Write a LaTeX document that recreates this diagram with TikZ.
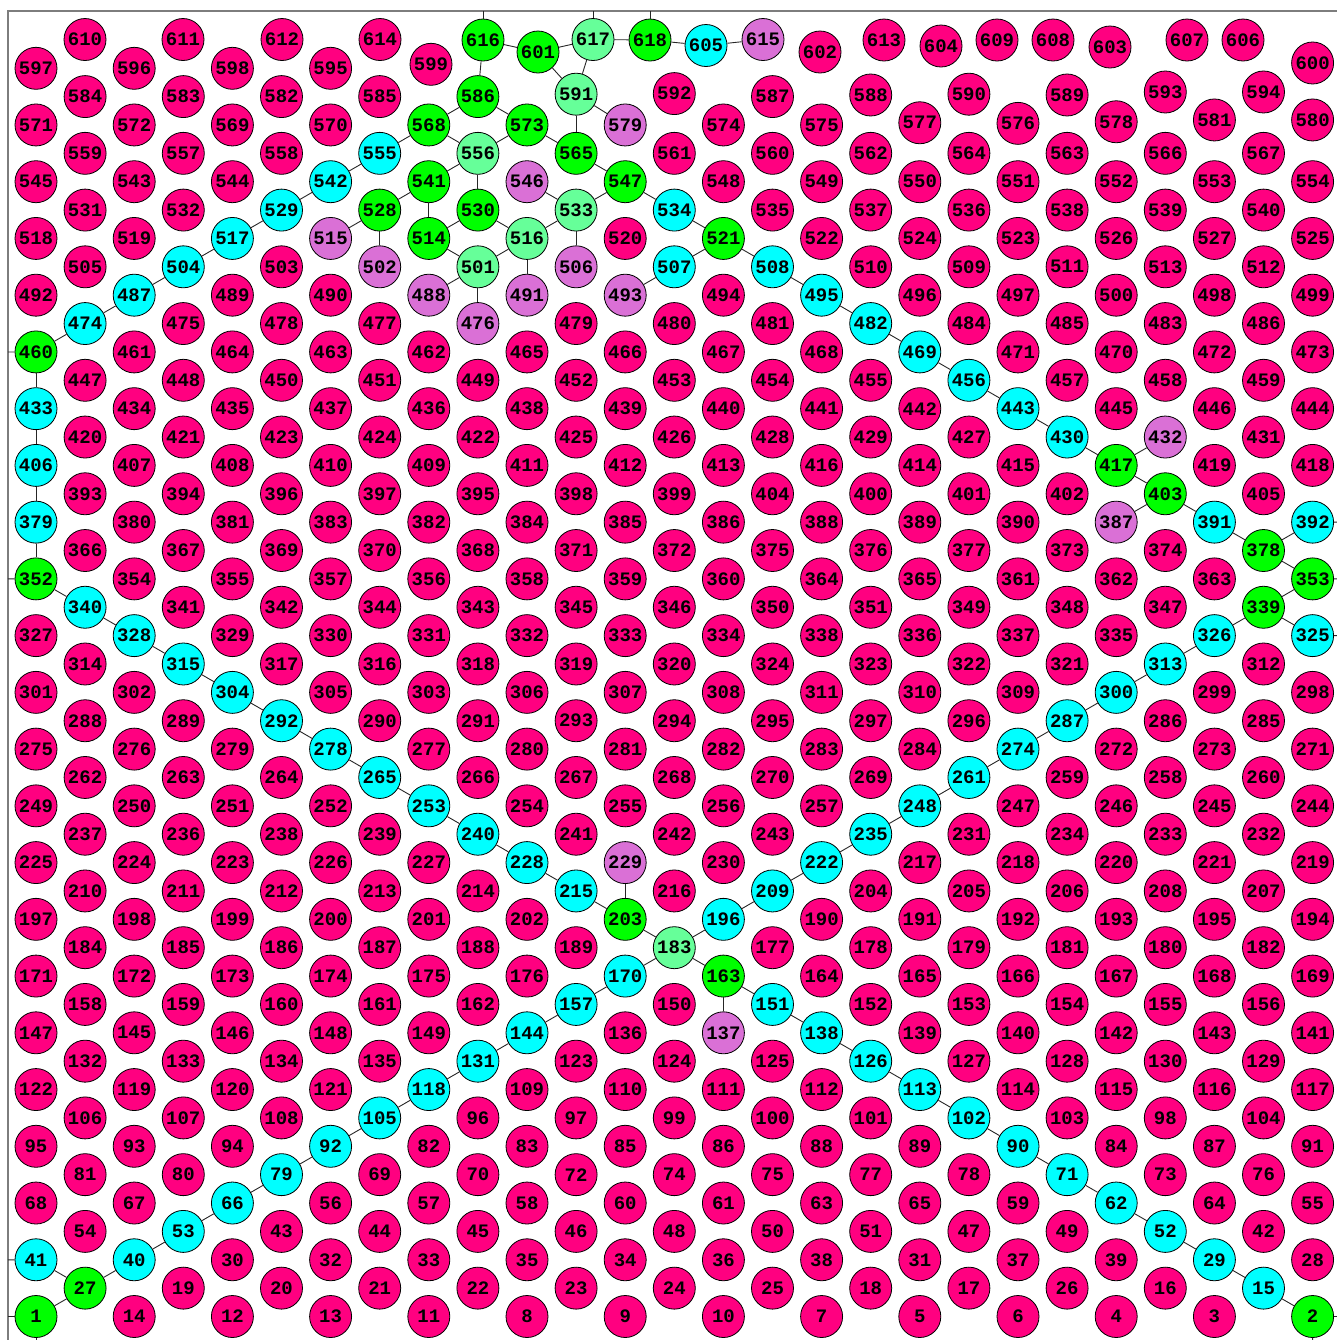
\documentclass[tikz,border=0pt]{standalone}
\usepackage{fontspec}
\newfontfamily\nodefont{Liberation Mono}
\definecolor{pk}{RGB}{255,0,128}
\definecolor{cy}{RGB}{0,255,255}
\definecolor{gr}{RGB}{0,255,0}
\definecolor{mt}{RGB}{102,255,153}
\definecolor{oc}{RGB}{218,112,214}
\definecolor{fr}{RGB}{125,125,125}
\tikzset{
  vtx/.style={circle, draw=black, line width=0.4pt, fill=pk, minimum size=21pt, inner sep=0pt,
    font=\nodefont\bfseries\fontsize{9.5}{10}\selectfont},
  cyv/.style={fill=cy}, grv/.style={fill=gr}, mtv/.style={fill=mt}, ocv/.style={fill=oc},
  link/.style={draw=black!85, line width=0.45pt},
  framel/.style={draw=fr, line width=0.7pt},
  % green
  nc1/.style=grv, nc27/.style=grv, nc2/.style=grv, nc163/.style=grv, nc203/.style=grv,
  nc352/.style=grv, nc353/.style=grv, nc339/.style=grv, nc378/.style=grv, nc403/.style=grv,
  nc417/.style=grv, nc460/.style=grv, nc514/.style=grv, nc521/.style=grv, nc528/.style=grv,
  nc530/.style=grv, nc541/.style=grv, nc547/.style=grv, nc565/.style=grv, nc568/.style=grv,
  nc573/.style=grv, nc586/.style=grv,
  % mint
  nc183/.style=mtv, nc501/.style=mtv, nc516/.style=mtv, nc533/.style=mtv, nc556/.style=mtv,
  nc591/.style=mtv,
  % orchid
  nc137/.style=ocv, nc229/.style=ocv, nc387/.style=ocv, nc432/.style=ocv, nc476/.style=ocv,
  nc488/.style=ocv, nc491/.style=ocv, nc493/.style=ocv, nc502/.style=ocv, nc506/.style=ocv,
  nc515/.style=ocv, nc546/.style=ocv, nc579/.style=ocv,
  % cyan
  nc15/.style=cyv, nc29/.style=cyv, nc40/.style=cyv, nc41/.style=cyv, nc52/.style=cyv,
  nc53/.style=cyv, nc62/.style=cyv, nc66/.style=cyv, nc71/.style=cyv, nc79/.style=cyv,
  nc90/.style=cyv, nc92/.style=cyv, nc102/.style=cyv, nc105/.style=cyv, nc113/.style=cyv,
  nc118/.style=cyv, nc126/.style=cyv, nc131/.style=cyv, nc138/.style=cyv, nc144/.style=cyv,
  nc151/.style=cyv, nc157/.style=cyv, nc170/.style=cyv, nc196/.style=cyv, nc209/.style=cyv,
  nc215/.style=cyv, nc222/.style=cyv, nc228/.style=cyv, nc235/.style=cyv, nc240/.style=cyv,
  nc248/.style=cyv, nc253/.style=cyv, nc261/.style=cyv, nc265/.style=cyv, nc274/.style=cyv,
  nc278/.style=cyv, nc287/.style=cyv, nc292/.style=cyv, nc300/.style=cyv, nc304/.style=cyv,
  nc313/.style=cyv, nc315/.style=cyv, nc325/.style=cyv, nc326/.style=cyv, nc328/.style=cyv,
  nc340/.style=cyv, nc379/.style=cyv, nc391/.style=cyv, nc392/.style=cyv, nc406/.style=cyv,
  nc430/.style=cyv, nc433/.style=cyv, nc443/.style=cyv, nc456/.style=cyv, nc469/.style=cyv,
  nc474/.style=cyv, nc482/.style=cyv, nc487/.style=cyv, nc495/.style=cyv, nc504/.style=cyv,
  nc507/.style=cyv, nc508/.style=cyv, nc517/.style=cyv, nc529/.style=cyv, nc534/.style=cyv,
  nc542/.style=cyv, nc555/.style=cyv,
  % small position corrections
  sh593/.style={yshift=2.3pt}, sh594/.style={yshift=2.3pt}, sh588/.style={yshift=0.8pt},
  sh590/.style={yshift=1.2pt}, sh589/.style={yshift=0.8pt}, sh591/.style={yshift=1.2pt},
  sh592/.style={yshift=1.5pt}, sh581/.style={yshift=2.5pt}, sh580/.style={yshift=2.5pt},
  sh578/.style={yshift=1.6pt}, sh577/.style={yshift=1.1pt}, sh576/.style={yshift=0.8pt},
}
\newcommand\vrow[3]{%
  \foreach \n [count=\k from 0] in {#3} {%
    \node[vtx, nc\n/.try, sh\n/.try] (n\n) at ({#2+98.2*\k},{1316.5-28.37*#1}) {\n};}}
\begin{document}
\begin{tikzpicture}[x=0.5pt, y=-0.5pt]
\useasboundingbox (0,0) rectangle (1337,1340);
% frame
\draw[framel] (8,1340) -- (8,11) -- (1337,11);
% lattice rows
\vrow{0}{36}{1,14,12,13,11,8,9,10,7,5,6,4,3,2}
\vrow{1}{85.1}{27,19,20,21,22,23,24,25,18,17,26,16,15}
\vrow{2}{36}{41,40,30,32,33,35,34,36,38,31,37,39,29,28}
\vrow{3}{85.1}{54,53,43,44,45,46,48,50,51,47,49,52,42}
\vrow{4}{36}{68,67,66,56,57,58,60,61,63,65,59,62,64,55}
\vrow{5}{85.1}{81,80,79,69,70,72,74,75,77,78,71,73,76}
\vrow{6}{36}{95,93,94,92,82,83,85,86,88,89,90,84,87,91}
\vrow{7}{85.1}{106,107,108,105,96,97,99,100,101,102,103,98,104}
\vrow{8}{36}{122,119,120,121,118,109,110,111,112,113,114,115,116,117}
\vrow{9}{85.1}{132,133,134,135,131,123,124,125,126,127,128,130,129}
\vrow{10}{36}{147,145,146,148,149,144,136,137,138,139,140,142,143,141}
\vrow{11}{85.1}{158,159,160,161,162,157,150,151,152,153,154,155,156}
\vrow{12}{36}{171,172,173,174,175,176,170,163,164,165,166,167,168,169}
\vrow{13}{85.1}{184,185,186,187,188,189,183,177,178,179,181,180,182}
\vrow{14}{36}{197,198,199,200,201,202,203,196,190,191,192,193,195,194}
\vrow{15}{85.1}{210,211,212,213,214,215,216,209,204,205,206,208,207}
\vrow{16}{36}{225,224,223,226,227,228,229,230,222,217,218,220,221,219}
\vrow{17}{85.1}{237,236,238,239,240,241,242,243,235,231,234,233,232}
\vrow{18}{36}{249,250,251,252,253,254,255,256,257,248,247,246,245,244}
\vrow{19}{85.1}{262,263,264,265,266,267,268,270,269,261,259,258,260}
\vrow{20}{36}{275,276,279,278,277,280,281,282,283,284,274,272,273,271}
\vrow{21}{85.1}{288,289,292,290,291,293,294,295,297,296,287,286,285}
\vrow{22}{36}{301,302,304,305,303,306,307,308,311,310,309,300,299,298}
\vrow{23}{85.1}{314,315,317,316,318,319,320,324,323,322,321,313,312}
\vrow{24}{36}{327,328,329,330,331,332,333,334,338,336,337,335,326,325}
\vrow{25}{85.1}{340,341,342,344,343,345,346,350,351,349,348,347,339}
\vrow{26}{36}{352,354,355,357,356,358,359,360,364,365,361,362,363,353}
\vrow{27}{85.1}{366,367,369,370,368,371,372,375,376,377,373,374,378}
\vrow{28}{36}{379,380,381,383,382,384,385,386,388,389,390,387,391,392}
\vrow{29}{85.1}{393,394,396,397,395,398,399,404,400,401,402,403,405}
\vrow{30}{36}{406,407,408,410,409,411,412,413,416,414,415,417,419,418}
\vrow{31}{85.1}{420,421,423,424,422,425,426,428,429,427,430,432,431}
\vrow{32}{36}{433,434,435,437,436,438,439,440,441,442,443,445,446,444}
\vrow{33}{85.1}{447,448,450,451,449,452,453,454,455,456,457,458,459}
\vrow{34}{36}{460,461,464,463,462,465,466,467,468,469,471,470,472,473}
\vrow{35}{85.1}{474,475,478,477,476,479,480,481,482,484,485,483,486}
\vrow{36}{36}{492,487,489,490,488,491,493,494,495,496,497,500,498,499}
\vrow{37}{85.1}{505,504,503,502,501,506,507,508,510,509,511,513,512}
\vrow{38}{36}{518,519,517,515,514,516,520,521,522,524,523,526,527,525}
\vrow{39}{85.1}{531,532,529,528,530,533,534,535,537,536,538,539,540}
\vrow{40}{36}{545,543,544,542,541,546,547,548,549,550,551,552,553,554}
\vrow{41}{85.1}{559,557,558,555,556,565,561,560,562,564,563,566,567}
\vrow{42}{36}{571,572,569,570,568,573,579,574,575,577,576,578,581,580}
\vrow{43}{85.1}{584,583,582,585,586,591,592,587,588,590,589,593,594}
% row 44 (partial)
\node[vtx] (n597) at (36,68.3) {597};
\node[vtx] (n596) at (134.2,68.3) {596};
\node[vtx] (n598) at (232.4,68.3) {598};
\node[vtx] (n595) at (330.6,68.3) {595};
\node[vtx] (n599) at (431,64.3) {599};
\node[vtx] (n600) at (1312.6,63) {600};
% top row (irregular)
\node[vtx] (n610) at (85,39.5) {610};
\node[vtx] (n611) at (183,39.5) {611};
\node[vtx] (n612) at (282,39.5) {612};
\node[vtx] (n614) at (380,39.5) {614};
\node[vtx, grv] (n616) at (483,40) {616};
\node[vtx, grv] (n601) at (538,52) {601};
\node[vtx, mtv] (n617) at (593,39.5) {617};
\node[vtx, grv] (n618) at (650,40) {618};
\node[vtx, cyv] (n605) at (706,45.5) {605};
\node[vtx, ocv] (n615) at (763,39.5) {615};
\node[vtx] (n602) at (820,52) {602};
\node[vtx] (n613) at (884,40) {613};
\node[vtx] (n604) at (941,46) {604};
\node[vtx] (n609) at (997,40) {609};
\node[vtx] (n608) at (1053,40) {608};
\node[vtx] (n603) at (1110,47) {603};
\node[vtx] (n607) at (1187,40) {607};
\node[vtx] (n606) at (1243,40) {606};
% connectors
\foreach \a/\b in {1/27, 27/41, 27/40, 40/53, 53/66, 66/79, 79/92, 92/105, 105/118,
  118/131, 131/144, 144/157, 157/170, 170/183, 183/196, 196/209, 209/222, 222/235,
  235/248, 248/261, 261/274, 274/287, 287/300, 300/313, 313/326, 326/339, 339/325,
  339/353, 353/378, 378/392, 378/391, 391/403, 403/387, 403/417, 417/432, 417/430,
  430/443, 443/456, 456/469, 469/482, 482/495, 495/508, 508/521, 521/507, 507/493,
  521/534, 534/547, 547/533, 547/565, 565/573, 565/591, 591/579, 591/601, 591/617,
  617/601, 601/616, 617/618, 618/605, 605/615, 616/586, 586/573, 586/568, 573/556,
  568/556, 568/555, 555/542, 542/529, 529/517, 517/504, 504/487, 487/474, 474/460,
  460/433, 433/406, 406/379, 379/352, 352/340, 340/328, 328/315, 315/304, 304/292,
  292/278, 278/265, 265/253, 253/240, 240/228, 228/215, 215/203, 203/229, 203/183,
  183/163, 163/137, 163/151, 151/138, 138/126, 126/113, 113/102, 102/90, 90/71, 71/62,
  62/52, 52/29, 29/15, 15/2, 556/541, 556/530, 541/528, 541/514, 528/515, 528/502,
  530/514, 530/516, 514/501, 501/488, 501/476, 501/516, 516/491, 516/533, 533/546,
  533/506}
  \draw[link] (n\a) -- (n\b);
% connectors leaving the frame
\coordinate (eL1) at (8,1316.5);
\coordinate (eB1) at (36,1340);
\coordinate (eL41) at (8,1259.8);
\coordinate (eL352) at (8,578.9);
\coordinate (eL460) at (8,352.0);
\coordinate (eR2) at (1337,1316.5);
\coordinate (eB2) at (1312.6,1340);
\coordinate (eR392) at (1337,522.1);
\coordinate (eR353) at (1337,578.9);
\coordinate (eR325) at (1337,635.6);
\coordinate (eT616) at (483,11);
\coordinate (eT617) at (593,11);
\coordinate (eT618) at (650,11);
\foreach \a/\b in {1/eL1, 1/eB1, 41/eL41, 352/eL352, 460/eL460, 2/eR2, 2/eB2,
  392/eR392, 353/eR353, 325/eR325, 616/eT616, 617/eT617, 618/eT618}
  \draw[link] (n\a) -- (\b);
\end{tikzpicture}
\end{document}
